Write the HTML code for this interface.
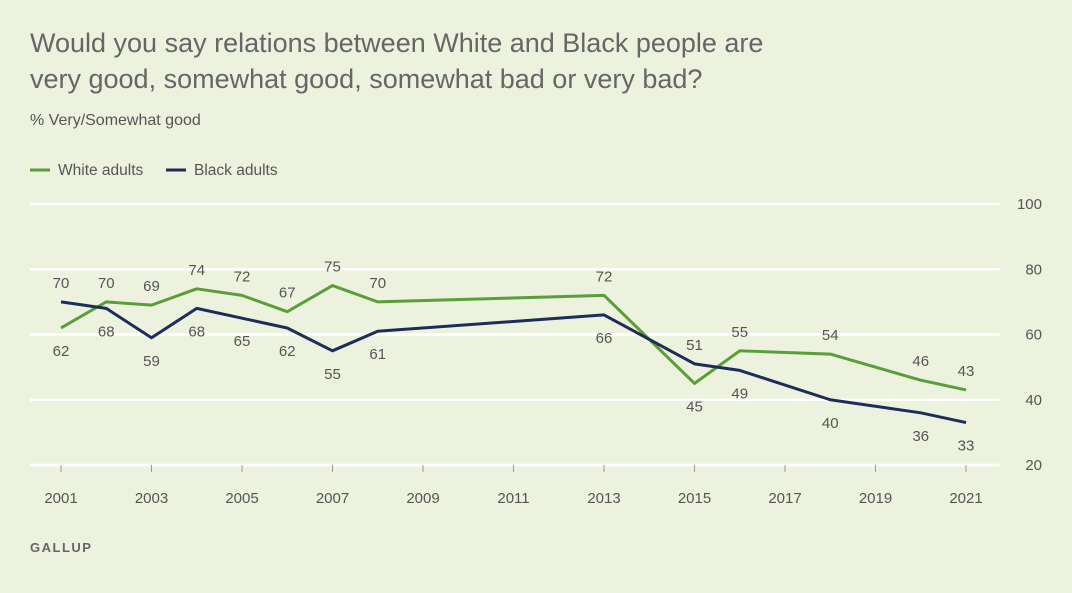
<!DOCTYPE html>
<html><head><meta charset="utf-8"><style>
html,body{margin:0;padding:0;background:#ecf2dd;}
body{width:1072px;height:588px;overflow:hidden;font-family:"Liberation Sans",sans-serif;}
</style></head><body>
<svg width="1072" height="588" xmlns="http://www.w3.org/2000/svg">
<rect width="1072" height="588" fill="#ecf2dd"/>
<text x="30" y="52" font-size="27" fill="#666">Would you say relations between White and Black people are</text>
<text x="30" y="88" font-size="27" fill="#666">very good, somewhat good, somewhat bad or very bad?</text>
<text x="30" y="125" font-size="16" fill="#555">% Very/Somewhat good</text>
<g>
<line x1="30" y1="170" x2="50" y2="170" stroke="#5a9e3a" stroke-width="3"/>
<text x="58" y="175" font-size="15.5" fill="#555">White adults</text>
<line x1="166" y1="170" x2="186" y2="170" stroke="#1c2d5a" stroke-width="3"/>
<text x="194" y="175" font-size="15.5" fill="#555">Black adults</text>
</g>
<g id="grid"></g><g id="xt"></g><g id="lines"></g><g id="labels"></g>
<text x="30" y="552" font-size="13" fill="#666" letter-spacing="1.5" font-weight="bold">GALLUP</text>
</svg>
<script>
const yTicks=[20,40,60,80,100];
const xTicks=[2001,2003,2005,2007,2009,2011,2013,2015,2017,2019,2021];
const whiteYears=[2001,2002,2003,2004,2005,2006,2007,2008,2013,2015,2016,2018,2020,2021];
const whiteVals=[62,70,69,74,72,67,75,70,72,45,55,54,46,43];
const blackYears=[2001,2002,2003,2004,2005,2006,2007,2008,2013,2015,2016,2018,2020,2021];
const blackVals=[70,68,59,68,65,62,55,61,66,51,49,40,36,33];
const NS='http://www.w3.org/2000/svg';
const X=y=>61+(y-2001)*(966-61)/20;
const Y=v=>465-(v-20)*(465-204)/80;
function mk(t,a,p){const e=document.createElementNS(NS,t);for(const k in a)e.setAttribute(k,a[k]);document.getElementById(p).appendChild(e);return e;}
yTicks.forEach(v=>{
 const l=mk('line',{x1:30,x2:1000,y1:Y(v),y2:Y(v),stroke:'#fff','stroke-width':2.5},'grid');
 
 
 const t=mk('text',{x:1042,y:Y(v)+5,'text-anchor':'end','font-size':15,fill:'#555'},'grid');t.textContent=v;
 
 
});
xTicks.forEach(y=>{
 const l=mk('line',{x1:X(y),x2:X(y),y1:465,y2:472,stroke:'#999','stroke-width':1},'xt');
 
 
 const t=mk('text',{x:X(y),y:503,'text-anchor':'middle','font-size':15,fill:'#555'},'xt');t.textContent=y;
 
 
});
function series(yrs,vals,col,name,other){
 const p=mk('polyline',{points:yrs.map((y,i)=>X(y)+','+Y(vals[i])).join(' '),fill:'none',stroke:col,'stroke-width':3,'stroke-linejoin':'round'},'lines');
 
 
 yrs.forEach((y,i)=>{
  const above=vals[i]>=other[i];
  const t=mk('text',{x:X(y),y:Y(vals[i])+(above?-14:28),'text-anchor':'middle','font-size':15,fill:'#555'},'labels');
  t.textContent=vals[i];
  
  
 });
}
series(whiteYears,whiteVals,'#5a9e3a','white',blackVals);
series(blackYears,blackVals,'#1c2d5a','black',whiteVals);
</script>
</body></html>
